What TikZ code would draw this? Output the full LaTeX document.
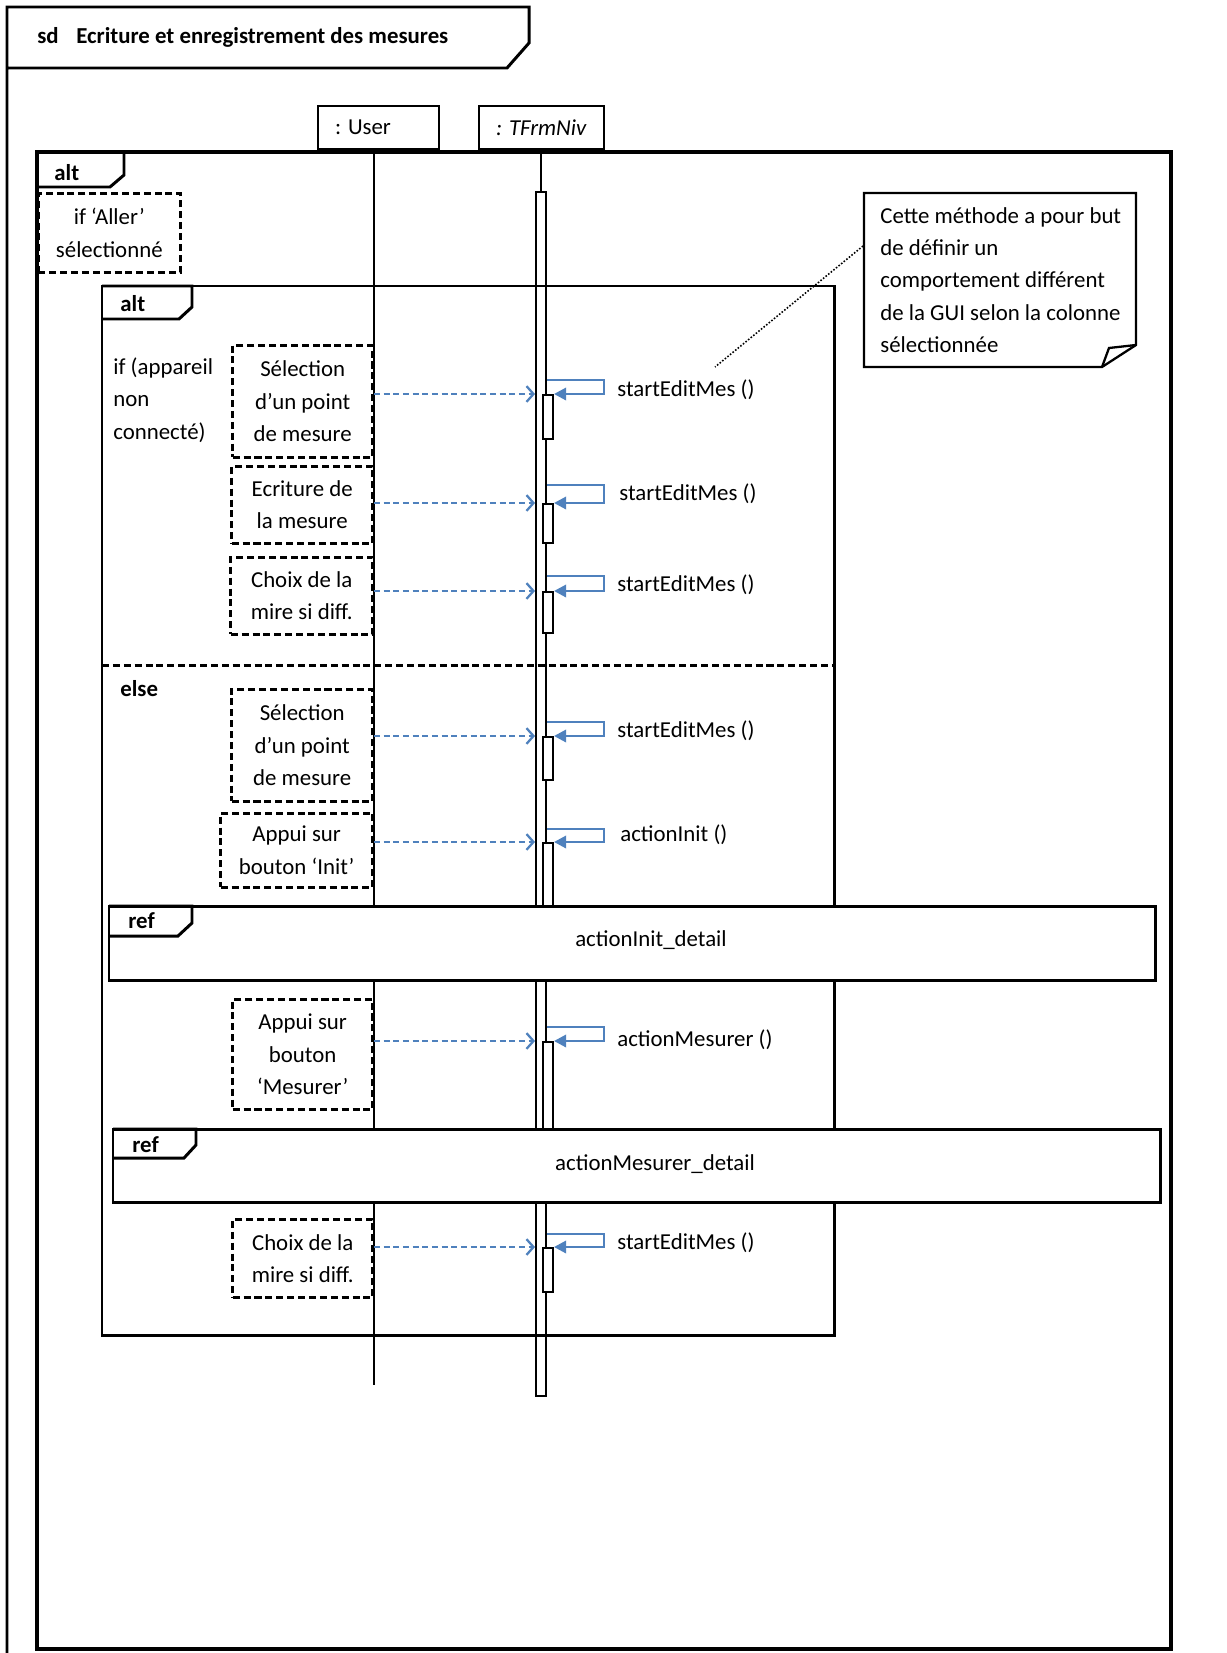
\documentclass[tikz,border=0pt]{standalone}
\usepackage{fontspec}
\setmainfont{Carlito}
\usetikzlibrary{arrows.meta, positioning, calc}
\definecolor{MsgBlue}{HTML}{4F81BD}
\tikzset{
  base/.style={font=\fontsize{13}{18.4}\selectfont},
  kw/.style={base, font=\fontsize{13}{18.4}\selectfont\bfseries, inner sep=0pt, anchor=west},
  txt/.style={base, inner sep=0pt, anchor=west, align=left},
  frameline/.style={draw=black, line width=1.7pt},
  head/.style={base, draw, line width=1.3pt, align=left, inner xsep=9.6pt,
    minimum height=0.86cm},
  guard/.style={base, draw, line width=1.5pt, dash pattern=on 4pt off 2.2pt,
    align=center, inner sep=0pt, anchor=north east},
  life/.style={line width=1.2pt},
  actbox/.style={draw, line width=1.1pt, fill=white, minimum width=0.2cm,
    inner sep=0pt, anchor=north west},
  msg/.style={draw=MsgBlue, line width=1.3pt, dash pattern=on 3.5pt off 2pt,
    -{Straight Barb[length=4pt, width=9pt]}},
  selfcall/.style={draw=MsgBlue, line width=1.6pt,
    -{Triangle[length=7pt, width=7pt]}},
  refbox/.style={draw, fill=white, line width=1.7pt},
}

\begin{document}
\begin{tikzpicture}[x=0.02cm, y=-0.02cm]
  \useasboundingbox (0,0) rectangle (1227,1653);

  % sd frame
  \draw[frameline] (7,1653) -- (7,7) -- (529,7) -- (529,43) -- (507,68) -- (7,68);
  \node[kw] (title) at (37,37) {sd\hspace{10pt}Ecriture et enregistrement des mesures};

  % outer alt
  \draw[frameline, line width=1.9pt] (37,152) rectangle (1171,1649);
  \draw[frameline] (37,152) -- (124,152) -- (124,175) -- (110,187) -- (37,187);
  \node[kw] (alt1) at (54,173) {alt};
  \node[guard, anchor=north west, minimum width=2.84cm, minimum height=1.58cm]
    (aller) at (37,192) {if ‘Aller’\\sélectionné};

  % inner alt
  \draw[frameline] (102,286) rectangle (834,1335);
  \draw[frameline] (102,286) -- (192,286) -- (192,307) -- (179,319) -- (102,319);
  \node[kw] (alt2) at (120,304) {alt};
  \node[txt] (cond) at (113,400) {if (appareil\\non\\connecté)};
  \draw[frameline, dash pattern=on 4pt off 2.2pt] (102,665) -- (834,665);
  \node[kw] (else) at (120,689) {else};

  % lifelines
  \node[head] (user) at (378.5,127.5) {\parbox{1.74cm}{: User}};
  \node[head, right=0.76cm of user] (frm) {\parbox{1.82cm}{\itshape : TFrmNiv}};
  \coordinate (uend) at (374,1385);
  \node[draw, line width=1.1pt, minimum width=0.2cm, minimum height=24.08cm,
    inner sep=0pt, anchor=north] (bar) at (541,191) {};
  \draw[life] (frm.south -| bar.north) -- (bar.north);

  % user actions
  \node[guard, minimum width=2.8cm, minimum height=2.24cm] (g1) at (374,344)
    {Sélection\\d’un point\\de mesure};
  \node[guard, minimum width=2.82cm, minimum height=1.54cm] (g2) at (374,465)
    {Ecriture de\\la mesure};
  \node[guard, minimum width=2.84cm, minimum height=1.54cm] (g3) at (374,556)
    {Choix de la\\mire si diff.};
  \node[guard, minimum width=2.82cm, minimum height=2.24cm] (g4) at (374,688)
    {Sélection\\d’un point\\de mesure};
  \node[guard, minimum width=3.04cm, minimum height=1.48cm] (g5) at (374,812)
    {Appui sur\\bouton ‘Init’};
  \node[guard, minimum width=2.8cm, minimum height=2.2cm] (g6) at (374,998)
    {Appui sur\\bouton\\‘Mesurer’};
  \node[guard, minimum width=2.8cm, minimum height=1.56cm] (g7) at (374,1218)
    {Choix de la\\mire si diff.};
  \draw[life] (user.south -| uend) -- (uend);

  % activations
  \node[actbox, minimum height=0.88cm] (a1) at (542,394) {};
  \node[actbox, minimum height=0.78cm] (a2) at (542,503) {};
  \node[actbox, minimum height=0.82cm] (a3) at (542,591) {};
  \node[actbox, minimum height=0.86cm] (a4) at (542,736) {};
  \node[actbox, minimum height=1.76cm] (a5) at (542,842) {};
  \node[actbox, minimum height=1.98cm] (a6) at (542,1041) {};
  \node[actbox, minimum height=0.88cm] (a7) at (542,1247) {};

  % messages
  \foreach \g/\a/\d in {g1/a1/14, g2/a2/18, g3/a3/15, g4/a4/14, g5/a5/13, g6/a6/14, g7/a7/13} {
    \draw[msg] (\g.east |- \a.north) -- (bar.west |- \a.north);
    \draw[selfcall] (bar.east |- \a.north) ++(0,-\d) -- ++(57,0) |- (\a.north east);
  }
  \node[txt] (m1) at (617,390) {startEditMes ()};
  \node[txt] (m2) at (619,494) {startEditMes ()};
  \node[txt] (m3) at (617,585) {startEditMes ()};
  \node[txt] (m4) at (617,731) {startEditMes ()};
  \node[txt] (m5) at (620,835) {actionInit ()};
  \node[txt] (m6) at (617,1040) {actionMesurer ()};
  \node[txt] (m7) at (617,1243) {startEditMes ()};

  % references
  \draw[refbox] (109,906) rectangle (1155,980);
  \draw[frameline] (109,906) -- (192,906) -- (192,923) -- (178,936) -- (109,936);
  \node[kw] (ref1) at (128,921) {ref};
  \node[base, inner sep=0pt] (det1) at (651,940) {actionInit\_detail};
  \draw[refbox] (113,1129) rectangle (1160,1202);
  \draw[frameline] (113,1129) -- (196,1129) -- (196,1145) -- (184,1158) -- (113,1158);
  \node[kw] (ref2) at (132,1145) {ref};
  \node[base, inner sep=0pt] (det2) at (655,1164) {actionMesurer\_detail};

  % note
  \draw[line width=1.3pt, fill=white] (864,193) -- (1136,193) -- (1136,345) -- (1102,367)
    -- (864,367) -- cycle;
  \draw[line width=1.3pt] (1102,367) -- (1109,348) -- (1136,345);
  \node[txt] (note) at (880,280) {Cette méthode a pour but\\de définir un\\comportement différent\\de la GUI selon la colonne\\sélectionnée};
  \coordinate (noteend) at (863,246);
  \coordinate (callpt) at (715,367);
  \draw[densely dotted, line width=0.9pt] (noteend) -- (callpt);
\end{tikzpicture}
\end{document}
